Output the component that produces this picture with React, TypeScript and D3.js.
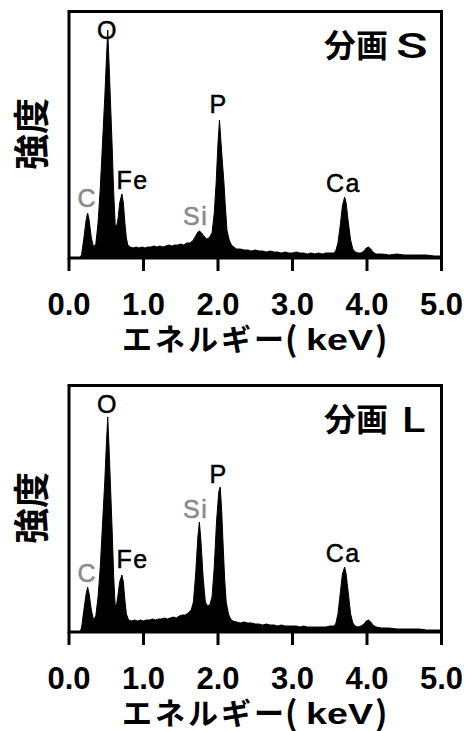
import React, { useEffect, useRef } from "react";
import * as d3 from "d3";

// EDS spectra, [energy keV, counts]
const spectrumS: [number, number][] = [
  [0.0, 0], [0.15, 0], [0.17, 4], [0.2, 20], [0.23, 38], [0.25, 45], [0.27, 38], [0.3, 20], [0.33, 11],
  [0.36, 14], [0.39, 35], [0.42, 70], [0.45, 115], [0.48, 160], [0.5, 195], [0.52, 228], [0.54, 190],
  [0.56, 150], [0.58, 110], [0.6, 65], [0.62, 33], [0.64, 32], [0.66, 40], [0.68, 55], [0.71, 64],
  [0.73, 55], [0.75, 35], [0.77, 20], [0.79, 13], [0.82, 11], [0.86, 10], [0.9, 11], [0.94, 10],
  [0.98, 11], [1.02, 10], [1.06, 11], [1.1, 11], [1.14, 12], [1.18, 11], [1.22, 12], [1.26, 11],
  [1.3, 12], [1.34, 13], [1.38, 12], [1.42, 13], [1.46, 13], [1.5, 14], [1.54, 13], [1.58, 15],
  [1.62, 15], [1.66, 17], [1.7, 22], [1.73, 26], [1.75, 27], [1.78, 25], [1.82, 21], [1.85, 19],
  [1.88, 20], [1.92, 25], [1.95, 45], [1.975, 75], [2.0, 115], [2.02, 138], [2.05, 105], [2.08, 75],
  [2.1, 50], [2.12, 28], [2.15, 18], [2.18, 13], [2.21, 11], [2.25, 9], [2.3, 9], [2.35, 8], [2.4, 8],
  [2.45, 7], [2.5, 8], [2.55, 7], [2.6, 7], [2.65, 6], [2.7, 7], [2.75, 6], [2.8, 6], [2.85, 5],
  [2.9, 6], [2.95, 5], [3.0, 5], [3.05, 6], [3.1, 5], [3.15, 5], [3.2, 4], [3.25, 5], [3.3, 4],
  [3.35, 5], [3.4, 4], [3.45, 5], [3.5, 5], [3.55, 5], [3.58, 7], [3.61, 15], [3.64, 32], [3.67, 52],
  [3.7, 61], [3.72, 55], [3.75, 35], [3.78, 18], [3.81, 9], [3.84, 6], [3.88, 5], [3.92, 5], [3.96, 7],
  [3.99, 10], [4.02, 11], [4.05, 9], [4.08, 6], [4.12, 4], [4.2, 4], [4.3, 3], [4.4, 4], [4.5, 3],
  [4.6, 3], [4.7, 3], [4.8, 3], [4.9, 2], [5.0, 2],
];

const spectrumL: [number, number][] = [
  [0.0, 0], [0.15, 0], [0.17, 5], [0.2, 22], [0.23, 38], [0.25, 45], [0.27, 38], [0.3, 22], [0.33, 12],
  [0.36, 16], [0.39, 35], [0.42, 65], [0.45, 108], [0.48, 150], [0.5, 185], [0.52, 215], [0.54, 180],
  [0.56, 140], [0.58, 100], [0.6, 55], [0.62, 26], [0.64, 28], [0.66, 38], [0.68, 50], [0.71, 57],
  [0.73, 50], [0.75, 32], [0.77, 18], [0.8, 12], [0.84, 11], [0.88, 12], [0.92, 11], [0.96, 12],
  [1.0, 11], [1.04, 12], [1.08, 12], [1.12, 13], [1.16, 12], [1.2, 13], [1.24, 13], [1.28, 14],
  [1.32, 13], [1.36, 14], [1.4, 15], [1.44, 14], [1.48, 16], [1.52, 17], [1.56, 17], [1.6, 19],
  [1.64, 22], [1.67, 30], [1.7, 58], [1.73, 95], [1.75, 110], [1.77, 92], [1.8, 55], [1.83, 30],
  [1.86, 26], [1.89, 27], [1.92, 35], [1.95, 65], [1.98, 110], [2.01, 140], [2.03, 145], [2.05, 120],
  [2.07, 85], [2.09, 52], [2.11, 30], [2.14, 18], [2.17, 13], [2.2, 11], [2.25, 10], [2.3, 9],
  [2.35, 10], [2.4, 9], [2.45, 9], [2.5, 8], [2.55, 8], [2.6, 7], [2.65, 8], [2.7, 7], [2.75, 7],
  [2.8, 6], [2.85, 7], [2.9, 6], [2.95, 6], [3.0, 6], [3.05, 6], [3.1, 5], [3.15, 6], [3.2, 5],
  [3.25, 5], [3.3, 5], [3.35, 5], [3.4, 5], [3.45, 5], [3.5, 6], [3.55, 6], [3.58, 8], [3.61, 18],
  [3.64, 38], [3.67, 58], [3.7, 65], [3.72, 58], [3.75, 38], [3.78, 18], [3.81, 9], [3.84, 6],
  [3.88, 5], [3.92, 6], [3.96, 8], [3.99, 11], [4.02, 12], [4.05, 10], [4.08, 7], [4.12, 5], [4.2, 4],
  [4.3, 4], [4.4, 3], [4.5, 3], [4.6, 3], [4.7, 3], [4.8, 2], [4.9, 2], [5.0, 2],
];

const xTicks = [0, 1, 2, 3, 4, 5];

// element label, anchor in data units (keV, counts), grey = light element
type PeakLabel = { name: string; keV: number; counts: number; grey: boolean };

const peakLabelsS: PeakLabel[] = [
  { name: "C", keV: 0.245, counts: 51, grey: true },
  { name: "O", keV: 0.515, counts: 219, grey: false },
  { name: "Fe", keV: 0.855, counts: 69, grey: false },
  { name: "Si", keV: 1.7, counts: 33, grey: true },
  { name: "P", keV: 2.007, counts: 145, grey: false },
  { name: "Ca", keV: 3.685, counts: 66, grey: false },
];

const peakLabelsL: PeakLabel[] = [
  { name: "C", keV: 0.245, counts: 50, grey: true },
  { name: "O", keV: 0.515, counts: 219, grey: false },
  { name: "Fe", keV: 0.855, counts: 64, grey: false },
  { name: "Si", keV: 1.7, counts: 114, grey: true },
  { name: "P", keV: 2.007, counts: 149, grey: false },
  { name: "Ca", keV: 3.68, counts: 70, grey: false },
];

const panelNames = ["分画", "分画"];
const panelSuffix = ["S", "L"];
const xTitle = "エネルギー";
const xUnit = "keV";
const yTitle = "強度";

const dimension = { left: 69, right: 441.5, top: 11.5, bottom: 258 };
const panelOffset = 374;

const jpFont = "'Noto Sans CJK JP', sans-serif";
const latinFont = "'Liberation Sans', Arial, sans-serif";

function drawPanel(svg, spectrum, labels, index) {
  const { left, right, top, bottom } = dimension;
  const g = svg.append("g").attr("transform", `translate(0,${index * panelOffset})`);

  const x = d3.scaleLinear().domain([0, 5]).range([left, right]);
  const y = d3.scaleLinear().domain([0, bottom - top]).range([bottom, top]);

  const area = d3.area<[number, number]>()
    .x(d => x(d[0]))
    .y0(y(0))
    .y1(d => y(d[1]));

  g.append("path")
    .datum(spectrum)
    .attr("d", area)
    .attr("fill", "#000")
    .attr("stroke", "#000")
    .attr("stroke-width", 1);

  // frame (top, sides) + x axis line
  g.append("rect")
    .attr("x", left).attr("y", top)
    .attr("width", right - left).attr("height", bottom - top)
    .attr("fill", "none").attr("stroke", "#000").attr("stroke-width", 3);

  g.selectAll("line.tick")
    .data(xTicks)
    .enter().append("line")
    .attr("class", "tick")
    .attr("x1", d => x(d)).attr("x2", d => x(d))
    .attr("y1", bottom).attr("y2", bottom + 13)
    .attr("stroke", "#000").attr("stroke-width", 3);

  g.selectAll("text.ticklabel")
    .data(xTicks)
    .enter().append("text")
    .attr("class", "ticklabel")
    .attr("x", d => x(d))
    .attr("y", 315)
    .attr("text-anchor", "middle")
    .style("font-family", latinFont)
    .style("font-weight", "bold")
    .style("font-size", "31px")
    .text(d => d.toFixed(1));

  // x title: kana part, then (keV)
  g.append("text")
    .attr("x", 122).attr("y", 350)
    .attr("textLength", 162).attr("lengthAdjust", "spacing")
    .style("font-family", jpFont)
    .style("font-weight", "bold").style("font-size", "30px")
    .text(xTitle);
  g.append("text")
    .attr("x", 285).attr("y", 351)
    .style("font-family", jpFont)
    .style("font-weight", "bold").style("font-size", "33px")
    .text("(");
  g.append("text")
    .attr("x", 306).attr("y", 350)
    .attr("textLength", 67).attr("lengthAdjust", "spacingAndGlyphs")
    .style("font-family", latinFont)
    .style("font-weight", "bold").style("font-size", "30px")
    .text(xUnit);
  g.append("text")
    .attr("x", 375).attr("y", 351)
    .style("font-family", jpFont)
    .style("font-weight", "bold").style("font-size", "33px")
    .text(")");

  // y title
  g.append("text")
    .attr("transform", `translate(29,134) rotate(-90)`)
    .attr("text-anchor", "middle")
    .attr("dominant-baseline", "central")
    .style("font-family", jpFont)
    .style("font-weight", "bold").style("font-size", "36px")
    .text(yTitle);

  // panel name
  g.append("text")
    .attr("x", 324).attr("y", 57)
    .style("font-family", jpFont)
    .style("font-weight", "bold").style("font-size", "32px")
    .text(panelNames[index]);
  g.append("text")
    .attr("transform", `translate(${index === 0 ? 396 : 402},58) scale(${index === 0 ? 1.45 : 1.2},1)`)
    .style("font-family", "Roboto, sans-serif")
    .style("font-weight", 500).style("font-size", "36px")
    .text(panelSuffix[index]);

  // peak labels
  g.selectAll("text.peak")
    .data(labels)
    .enter().append("text")
    .attr("class", "peak")
    .attr("x", d => x(d.keV))
    .attr("y", d => y(d.counts))
    .attr("text-anchor", "middle")
    .attr("fill", d => (d.grey ? "#8a8a8a" : "#000"))
    .attr("stroke", d => (d.grey ? "#8a8a8a" : "#000"))
    .attr("stroke-width", 0.5)
    .style("font-family", latinFont)
    .style("font-size", "25px")
    .style("letter-spacing", "1.5px")
    .text(d => d.name);
}

export default function App() {
  const ref = useRef<SVGSVGElement>(null);

  useEffect(() => {
    const svg = d3.select(ref.current);
    svg.selectAll("*").remove();
    drawPanel(svg, spectrumS, peakLabelsS, 0);
    drawPanel(svg, spectrumL, peakLabelsL, 1);
  }, []);

  return (
    <svg
      ref={ref}
      width={467}
      height={731}
      style={{ position: "absolute", left: 0, top: 0, background: "#fff" }}
    />
  );
}
